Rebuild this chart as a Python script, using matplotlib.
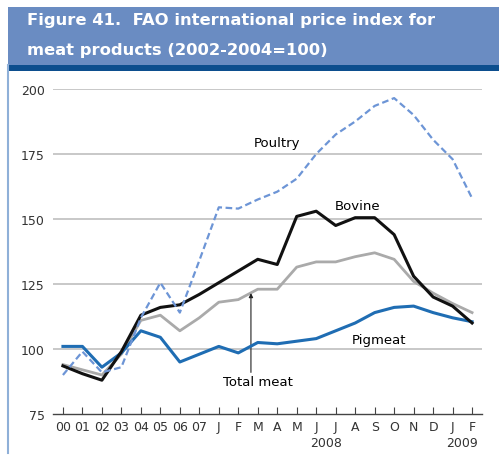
import matplotlib.pyplot as plt
from matplotlib.patches import Rectangle
from matplotlib.lines import Line2D

# x categories: annual averages 2000-2007, then monthly Jan 2008 - Feb 2009
labels = ['00', '01', '02', '03', '04', '05', '06', '07',
          'J', 'F', 'M', 'A', 'M', 'J', 'J', 'A', 'S', 'O', 'N', 'D', 'J', 'F']

poultry = [90, 99, 91, 93, 112, 125.5, 114, 134,
           154.5, 154, 157.5, 160.5, 165.5, 175, 182.5, 187.5, 193.5, 196.5, 190, 180.5, 173, 158]
bovine = [93.5, 90.5, 88, 99, 113, 116, 117, 121,
          125.5, 130, 134.5, 132.5, 151, 153, 147.5, 150.5, 150.5, 144, 128, 120, 116.5, 110]
total_meat = [94, 92, 90, 98, 111, 113, 107, 112,
              118, 119, 123, 123, 131.5, 133.5, 133.5, 135.5, 137, 134.5, 126, 121.5, 117.5, 114]
pigmeat = [101, 101, 93, 98.5, 107, 104.5, 95, 98,
           101, 98.5, 102.5, 102, 103, 104, 107, 110, 114, 116, 116.5, 114, 112, 110.5]

x = list(range(len(labels)))

fig = plt.figure(figsize=(4.99, 4.56), dpi=100)

# title band
fig.patches.append(Rectangle((8/499, 1-66/456), 1, 58/456, transform=fig.transFigure,
                             facecolor='#6a8cc2', edgecolor='none', zorder=0))
fig.patches.append(Rectangle((8/499, 1-72/456), 1, 6/456, transform=fig.transFigure,
                             facecolor='#0c4e8e', edgecolor='none', zorder=0))
fig.lines.append(Line2D([8/499, 8/499], [1-454/456, 1-66/456], transform=fig.transFigure,
                        color='#8fb0d8', lw=1.5))
fig.text(27/499, 1-21/456, 'Figure 41.  FAO international price index for',
         color='white', fontsize=11.8, fontweight='bold', va='center', ha='left')
fig.text(27/499, 1-50/456, 'meat products (2002-2004=100)',
         color='white', fontsize=11.8, fontweight='bold', va='center', ha='left')

ax = fig.add_axes([53/499, 1-415/456, 429/499, 325/456])
ax.set_xlim(-0.51, 21.51)
ax.set_ylim(75, 200)

for yv in [100, 125, 150, 175, 200]:
    ax.axhline(yv, color='#c4c4c4', lw=1.3, zorder=1)

ax.plot(x, total_meat, color='#aaaaaa', lw=2, zorder=3)
ax.plot(x, pigmeat, color='#1f6db3', lw=2.2, zorder=4)
ax.plot(x, bovine, color='#111111', lw=2.2, zorder=5)
ax.plot(x, poultry, color='#6d95d6', lw=1.6, ls=(0, (3, 1.6)), zorder=6)

ax.text(11.0, 179.5, 'Poultry', fontsize=9.5, ha='center', va='center')
ax.text(15.1, 155.3, 'Bovine', fontsize=9.5, ha='center', va='center')
ax.text(16.2, 103.8, 'Pigmeat', fontsize=9.5, ha='center', va='center')
ax.text(10.0, 87.5, 'Total meat', fontsize=9.5, ha='center', va='center')
ax.annotate('', xy=(9.65, 121.5), xytext=(9.65, 91),
            arrowprops=dict(arrowstyle='-|>', color='#222222', lw=0.8,
                            mutation_scale=6, shrinkA=0, shrinkB=0))

for s in ['top', 'right', 'left']:
    ax.spines[s].set_visible(False)
ax.spines['bottom'].set_color('#444444')
ax.spines['bottom'].set_linewidth(1.0)

ax.set_xticks(x)
ax.set_xticklabels(labels)
ax.set_yticks([75, 100, 125, 150, 175, 200])
ax.tick_params(axis='x', direction='in', length=5, color='#444444', labelsize=9,
               labelcolor='#333333', pad=4)
ax.tick_params(axis='y', length=0, labelsize=9, labelcolor='#333333', pad=6)

ax.text(13.5, -0.087, '2008', transform=ax.get_xaxis_transform(), fontsize=9,
        ha='center', va='center', color='#333333')
ax.text(20.5, -0.087, '2009', transform=ax.get_xaxis_transform(), fontsize=9,
        ha='center', va='center', color='#333333')

fig.savefig('out.png', dpi=100)
